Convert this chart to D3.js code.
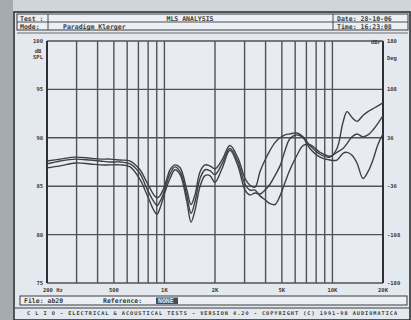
<!DOCTYPE html>
<html lang="en">
<head>
  <meta charset="UTF-8">
  <title>MLS Analysis</title>
  <script src="https://d3js.org/d3.v7.min.js"></script>
  <style>
    html, body { margin: 0; padding: 0; background: #c9cdd1; }
    svg { display: block; }
    text { font-family: "DejaVu Sans Mono", monospace; font-weight: bold; fill: #3a3d40; }
    .grid line { stroke: #505256; stroke-width: 1.4; }
    .curve { fill: none; stroke: #3e4043; stroke-width: 1.4; }
  </style>
</head>
<body>
<div id="chart"></div>
<script>
// frequency points (Hz)
const freqs = [200, 240, 295, 360, 415, 475, 545, 625, 715, 775, 820, 865, 905, 940, 980, 1035,
  1080, 1155, 1240, 1360, 1440, 1520, 1630, 1745, 1865, 2000, 2200, 2455, 2740, 3020, 3230, 3460,
  3705, 3970, 4250, 4550, 4875, 5225, 5585, 6150, 6685, 7345, 8435, 9670, 10640, 11560, 12220,
  13080, 14000, 15200, 16280, 17420, 18660, 20000];

// three measured responses, dB SPL
const curveA = [87.6, 87.8, 88.0, 87.9, 87.8, 87.8, 87.7, 87.6, 86.7, 85.6, 84.8, 84.1, 83.8, 84.0,
  84.6, 85.8, 86.7, 87.2, 86.9, 84.6, 83.1, 84.1, 86.5, 87.2, 87.1, 86.8, 87.7, 89.2, 87.9, 85.8,
  85.1, 84.9, 86.5, 87.7, 88.7, 89.5, 90.0, 90.3, 90.4, 90.5, 90.1, 89.2, 88.3, 88.0, 88.9, 91.6,
  92.7, 92.1, 91.7, 92.3, 92.7, 93.0, 93.3, 93.6];
const curveB = [87.3, 87.6, 87.8, 87.7, 87.6, 87.5, 87.5, 87.3, 86.3, 85.0, 84.1, 83.4, 83.0, 83.4,
  84.1, 85.4, 86.3, 87.0, 86.5, 84.0, 82.2, 83.4, 85.8, 86.7, 86.6, 86.2, 87.3, 88.9, 87.5, 85.2,
  84.6, 84.6, 84.0, 83.6, 83.2, 83.1, 84.0, 85.4, 86.7, 88.2, 89.2, 89.3, 88.5, 88.1, 88.5, 88.9,
  89.4, 90.1, 90.4, 90.1, 90.3, 90.8, 91.5, 92.3];
const curveC = [86.9, 87.1, 87.4, 87.3, 87.2, 87.2, 87.2, 87.0, 85.7, 84.4, 83.4, 82.5, 82.1, 82.7,
  83.7, 85.0, 85.8, 86.7, 86.2, 83.4, 81.3, 82.5, 85.0, 86.1, 86.1, 85.4, 86.8, 88.7, 87.1, 84.6,
  84.1, 84.3, 84.2, 84.6, 85.2, 86.1, 87.1, 88.7, 89.9, 90.3, 90.0, 88.9, 88.0, 87.7, 87.7, 88.4,
  88.5, 88.2, 87.4, 85.8, 86.5, 87.7, 89.3, 90.4];

// axes
const dbTicks = [100, 95, 90, 85, 80, 75];
const phaseTicks = [180, 108, 36, -36, -108, -180];
const freqTicks = [200, 500, 1000, 2000, 5000, 10000, 20000];
const freqTickLabels = ["200 Hz", "500", "1K", "2K", "5K", "10K", "20K"];
const freqGrid = [300, 400, 500, 600, 700, 800, 900, 1000, 2000, 3000, 4000, 5000, 6000, 7000,
  8000, 9000, 10000];

const W = 411, H = 320;
const plot = { left: 47, right: 383, top: 41, bottom: 283 };

const svg = d3.select("#chart").append("svg")
  .attr("width", W).attr("height", H);

// photo background and screen
svg.append("rect").attr("width", W).attr("height", H).attr("fill", "#d0d5db");
svg.append("rect").attr("x", 0).attr("y", 0).attr("width", 13).attr("height", H).attr("fill", "#a6abaf");
svg.append("rect").attr("x", 14).attr("y", 12).attr("width", 396).attr("height", 308)
  .attr("fill", "#e4e8ef").attr("stroke", "#2e3033").attr("stroke-width", 1.6);

// header
const hdr = svg.append("g");
hdr.append("rect").attr("x", 17).attr("y", 14).attr("width", 391).attr("height", 16)
  .attr("fill", "#eceff4").attr("stroke", "#3a3c3f").attr("stroke-width", 1);
hdr.append("line").attr("x1", 17).attr("x2", 408).attr("y1", 22).attr("y2", 22)
  .attr("stroke", "#3a3c3f").attr("stroke-width", 0.9);
[48, 333].forEach(x => hdr.append("line").attr("x1", x).attr("x2", x).attr("y1", 14).attr("y2", 30)
  .attr("stroke", "#3a3c3f").attr("stroke-width", 0.9));
hdr.append("line").attr("x1", 17).attr("x2", 408).attr("y1", 33).attr("y2", 33)
  .attr("stroke", "#4a4c4f").attr("stroke-width", 0.8);
const hText = (x, y, s, anchor) => hdr.append("text").attr("x", x).attr("y", y)
  .attr("font-size", 6.5).attr("text-anchor", anchor || "start").text(s);
hText(20, 20.5, "Test :");
hText(20, 28.5, "Mode:");
hText(190, 20.5, "MLS ANALYSIS", "middle");
hText(63, 28.5, "Paradigm Klerger");
hText(337, 20.5, "Date: 28-10-06");
hText(337, 28.5, "Time: 16:23:08");

// scales
const x = d3.scaleLog().domain([200, 20000]).range([plot.left, plot.right]);
const y = d3.scaleLinear().domain([75, 100]).range([plot.bottom, plot.top]);
const yPhase = d3.scaleLinear().domain([-180, 180]).range([plot.bottom, plot.top]);

// plot area
svg.append("rect").attr("x", plot.left).attr("y", plot.top)
  .attr("width", plot.right - plot.left).attr("height", plot.bottom - plot.top)
  .attr("fill", "#e8ecf2");

const grid = svg.append("g").attr("class", "grid");
grid.selectAll(".vx").data(freqGrid).enter().append("line")
  .attr("x1", d => x(d)).attr("x2", d => x(d))
  .attr("y1", plot.top).attr("y2", plot.bottom);
grid.selectAll(".hy").data(dbTicks).enter().append("line")
  .attr("x1", plot.left).attr("x2", plot.right)
  .attr("y1", d => y(d)).attr("y2", d => y(d));

// heavy frame sides
[plot.left, plot.right].forEach(px => svg.append("line")
  .attr("x1", px).attr("x2", px).attr("y1", plot.top).attr("y2", plot.bottom)
  .attr("stroke", "#2e3033").attr("stroke-width", 2));

// curves
const line = d3.line()
  .x((d, i) => x(freqs[i]))
  .y(d => y(d))
  .curve(d3.curveCatmullRom.alpha(0.5));
[curveA, curveB, curveC].forEach(c => svg.append("path")
  .attr("class", "curve").attr("d", line(c)));

// left axis labels
const lab = svg.append("g").attr("font-size", 6);
lab.selectAll(".yl").data(dbTicks).enter().append("text")
  .attr("x", plot.left - 4).attr("y", d => y(d) + 2).attr("text-anchor", "end")
  .attr("font-size", 5.5).text(d => d);
lab.append("text").attr("x", 38).attr("y", 53).attr("text-anchor", "middle").attr("font-size", 5.5).text("dB");
lab.append("text").attr("x", 38).attr("y", 59).attr("text-anchor", "middle").attr("font-size", 5.5).text("SPL");

// right axis labels
lab.selectAll(".pl").data(phaseTicks).enter().append("text")
  .attr("x", plot.right + 4).attr("y", d => yPhase(d) + 2)
  .attr("font-size", 5.5).text(d => d);
lab.append("text").attr("x", plot.right + 4).attr("y", 60).attr("font-size", 5.5).text("Deg");
lab.append("text").attr("x", plot.right - 12).attr("y", plot.top + 3).attr("font-size", 5.5).text("dBr");

// x tick labels
lab.selectAll(".xl").data(freqTicks).enter().append("text")
  .attr("x", d => x(d)).attr("y", 292)
  .attr("text-anchor", (d, i) => i === 0 ? "start" : "middle")
  .attr("dx", (d, i) => i === 0 ? -4 : 0)
  .attr("font-size", 5.5).text((d, i) => freqTickLabels[i]);

// file box
svg.append("rect").attr("x", 20).attr("y", 296).attr("width", 387).attr("height", 9)
  .attr("fill", "#eceff4").attr("stroke", "#3a3c3f").attr("stroke-width", 1);
svg.append("text").attr("x", 24).attr("y", 303).attr("font-size", 6.5).text("File: ab20");
svg.append("text").attr("x", 103).attr("y", 303).attr("font-size", 6.5).text("Reference:");
svg.append("rect").attr("x", 156).attr("y", 297.5).attr("width", 22).attr("height", 6.5).attr("fill", "#4a4d50");
svg.append("text").attr("x", 158).attr("y", 303).attr("font-size", 6.5).style("fill", "#e6eaf0").text("NONE");

// bottom banner
svg.append("line").attr("x1", 15).attr("x2", 409).attr("y1", 308).attr("y2", 308)
  .attr("stroke", "#3a3c3f").attr("stroke-width", 1);
svg.append("text").attr("x", 212).attr("y", 315).attr("text-anchor", "middle")
  .attr("font-size", 5.2).attr("textLength", 370)
  .text("C L I O  -  ELECTRICAL & ACOUSTICAL TESTS  -  VERSION 4.20  -  COPYRIGHT (C) 1991-98 AUDIOMATICA");
</script>
</body>
</html>
